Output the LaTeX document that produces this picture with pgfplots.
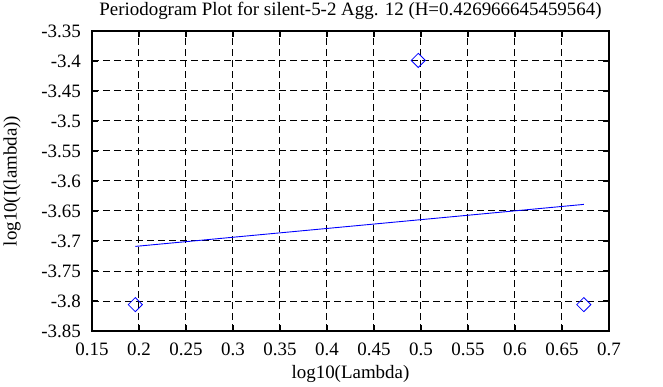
\documentclass[border=0pt]{standalone}
\usepackage{pgfplots}
\pgfplotsset{compat=1.18}
\usepackage{fontspec}
\setmainfont{Liberation Serif}
\begin{document}
\fontsize{19}{23}\selectfont
\begin{tikzpicture}
\begin{axis}[
  scale only axis,
  width=517bp, height=300bp,
  xmin=0.15, xmax=0.7, ymin=-3.85, ymax=-3.35,
  xtick={0.15,0.2,0.25,0.3,0.35,0.4,0.45,0.5,0.55,0.6,0.65,0.7},
  xticklabels={0.15,0.2,0.25,0.3,0.35,0.4,0.45,0.5,0.55,0.6,0.65,0.7},
  ytick={-3.85,-3.8,-3.75,-3.7,-3.65,-3.6,-3.55,-3.5,-3.45,-3.4,-3.35},
  yticklabels={-3.85,-3.8,-3.75,-3.7,-3.65,-3.6,-3.55,-3.5,-3.45,-3.4,-3.35},
  tick align=inside, major tick length=6bp,
  tick style={black, line width=1.5bp},
  axis line style={line width=2bp},
  grid=major,
  major grid style={black, line width=1bp, dash pattern=on 7bp off 4bp},
  title={Periodogram Plot for silent-5-2 Agg. 12 (H=0.426966645459564)},
  title style={at={(0.5,1)}, anchor=base, yshift=10bp, inner sep=0pt},
  xlabel={log10(Lambda)},
  ylabel={log10(I(lambda))},
  every tick label/.append style={font=\fontsize{19}{23}\selectfont},
  xticklabel style={anchor=base, inner sep=0pt, yshift=-24bp},
  yticklabel style={anchor=east, inner sep=0pt, xshift=-11bp},
  label style={font=\fontsize{19}{23}\selectfont},
  xlabel style={at={(axis description cs:0.5,0)}, anchor=base, yshift=-47bp, inner sep=0pt},
  ylabel style={at={(axis description cs:-0.1547,0.5)}, anchor=center, inner sep=0pt},
]
\addplot[blue, line width=0.9bp] coordinates {(0.1961,-3.709) (0.6732,-3.639)};
\addplot[only marks, mark=square, mark size=5bp, blue, mark options={rotate=45, line width=0.8bp, fill=none}]
  coordinates {(0.1961,-3.806) (0.4971,-3.399) (0.6732,-3.806)};
\end{axis}
\pgfresetboundingbox
\path (current axis.south west) ++(-92bp,-56bp) rectangle ++(663bp,387bp);
\end{tikzpicture}
\end{document}
